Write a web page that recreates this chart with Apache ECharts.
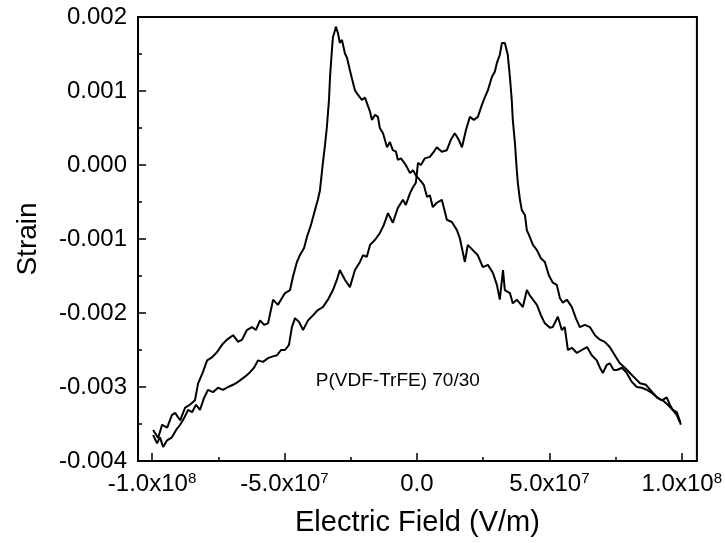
<!DOCTYPE html>
<html>
<head>
<meta charset="utf-8">
<script src="https://cdn.jsdelivr.net/npm/echarts@6/dist/echarts.min.js"></script>
<style>
  html, body { margin: 0; padding: 0; background: #fff; }
  #chart { width: 725px; height: 543px; }
</style>
</head>
<body>
<div id="chart"></div>
<script>
// Field sweep branch whose strain peak sits at negative field (V/m, strain)
const fieldA = [
  -99.6e6, -97.7e6, -96.2e6, -94.3e6, -92.5e6, -91.3e6, -89.4e6, -87.5e6, -85.7e6, -83.8e6,
  -82.6e6, -80.8e6, -79.2e6, -77.4e6, -75.5e6, -73.6e6, -71.7e6, -69.4e6, -67.5e6, -66.0e6,
  -64.2e6, -62.3e6, -60.8e6, -59.2e6, -57.7e6, -56.2e6, -54.3e6, -52.5e6, -49.8e6, -47.9e6,
  -46.8e6, -45.3e6, -44.2e6, -42.6e6, -41.5e6, -40.0e6, -38.5e6, -37.4e6, -36.6e6, -35.5e6,
  -34.7e6, -34.0e6, -33.2e6, -32.8e6, -32.1e6, -31.7e6, -30.9e6, -30.6e6, -29.8e6, -29.1e6,
  -28.3e6, -27.2e6, -26.4e6, -25.3e6, -24.2e6, -23.4e6, -22.3e6, -20.8e6, -19.6e6, -18.9e6,
  -17.7e6, -17.0e6, -15.8e6, -14.7e6, -14.0e6, -12.8e6, -11.3e6, -10.2e6, -9.1e6, -7.9e6,
  -7.2e6, -6.0e6, -5.3e6, -4.2e6, -2.6e6, -1.5e6, -0.4e6, 1.1e6, 2.6e6, 3.8e6,
  4.9e6, 6.0e6, 7.5e6, 9.4e6, 10.6e6, 11.3e6, 13.2e6, 15.1e6, 16.2e6, 18.1e6,
  19.2e6, 21.1e6, 23.0e6, 24.9e6, 26.8e6, 28.7e6, 30.2e6, 31.3e6, 32.5e6, 33.2e6,
  35.1e6, 36.2e6, 37.7e6, 38.9e6, 40.0e6, 41.5e6, 42.6e6, 43.8e6, 45.3e6, 46.8e6,
  48.3e6, 50.2e6, 51.3e6, 53.2e6, 54.7e6, 55.8e6, 57.0e6, 58.5e6, 60.4e6, 62.3e6,
  64.2e6, 66.0e6, 67.9e6, 69.1e6, 70.2e6, 71.7e6, 72.8e6, 74.3e6, 75.5e6, 77.4e6,
  79.2e6, 81.1e6, 83.0e6, 84.9e6, 86.8e6, 88.7e6, 90.6e6, 92.5e6, 94.3e6, 95.5e6,
  96.6e6, 98.1e6, 99.2e6, 99.6e6
];
const strainA = [
  -3.58e-3, -3.69e-3, -3.51e-3, -3.55e-3, -3.38e-3, -3.35e-3, -3.45e-3, -3.28e-3, -3.24e-3, -3.18e-3,
  -2.95e-3, -2.80e-3, -2.64e-3, -2.60e-3, -2.53e-3, -2.43e-3, -2.36e-3, -2.30e-3, -2.39e-3, -2.36e-3,
  -2.23e-3, -2.19e-3, -2.23e-3, -2.10e-3, -2.16e-3, -2.14e-3, -1.82e-3, -1.89e-3, -1.73e-3, -1.69e-3,
  -1.51e-3, -1.31e-3, -1.22e-3, -1.12e-3, -0.97e-3, -0.81e-3, -0.61e-3, -0.47e-3, -0.34e-3, 0.03e-3,
  0.27e-3, 0.51e-3, 0.88e-3, 1.19e-3, 1.55e-3, 1.73e-3, 1.82e-3, 1.87e-3, 1.78e-3, 1.65e-3,
  1.69e-3, 1.51e-3, 1.45e-3, 1.28e-3, 1.12e-3, 1.01e-3, 0.95e-3, 0.88e-3, 0.91e-3, 0.84e-3,
  0.72e-3, 0.61e-3, 0.68e-3, 0.65e-3, 0.50e-3, 0.43e-3, 0.24e-3, 0.31e-3, 0.20e-3, 0.18e-3,
  0.07e-3, 0.09e-3, 0.11e-3, 0.00e-3, -0.11e-3, -0.07e-3, -0.14e-3, -0.20e-3, -0.27e-3, -0.43e-3,
  -0.41e-3, -0.57e-3, -0.51e-3, -0.47e-3, -0.64e-3, -0.74e-3, -0.77e-3, -0.88e-3, -0.99e-3, -1.31e-3,
  -1.08e-3, -1.15e-3, -1.22e-3, -1.38e-3, -1.35e-3, -1.46e-3, -1.62e-3, -1.82e-3, -1.42e-3, -1.69e-3,
  -1.73e-3, -1.87e-3, -1.82e-3, -1.87e-3, -1.92e-3, -1.69e-3, -1.76e-3, -1.82e-3, -1.89e-3, -2.03e-3,
  -2.14e-3, -2.20e-3, -2.19e-3, -2.05e-3, -2.23e-3, -2.19e-3, -2.50e-3, -2.47e-3, -2.54e-3, -2.50e-3,
  -2.46e-3, -2.57e-3, -2.64e-3, -2.74e-3, -2.81e-3, -2.70e-3, -2.68e-3, -2.77e-3, -2.77e-3, -2.74e-3,
  -2.81e-3, -2.93e-3, -3.00e-3, -3.01e-3, -3.04e-3, -3.08e-3, -3.14e-3, -3.18e-3, -3.14e-3, -3.24e-3,
  -3.31e-3, -3.34e-3, -3.45e-3, -3.51e-3
];

// Field sweep branch whose strain peak sits at positive field (V/m, strain)
const fieldB = [
  -99.6e6, -98.1e6, -97.0e6, -95.8e6, -94.3e6, -92.5e6, -90.9e6, -89.4e6, -87.9e6, -86.4e6,
  -84.9e6, -83.4e6, -81.9e6, -80.4e6, -78.9e6, -77.0e6, -75.1e6, -73.2e6, -71.3e6, -69.4e6,
  -67.5e6, -64.9e6, -63.0e6, -61.5e6, -60.0e6, -58.1e6, -56.2e6, -54.7e6, -52.8e6, -51.3e6,
  -49.8e6, -48.3e6, -47.2e6, -46.0e6, -44.5e6, -43.0e6, -41.1e6, -39.2e6, -37.4e6, -35.5e6,
  -33.6e6, -31.7e6, -30.2e6, -29.1e6, -27.2e6, -25.3e6, -23.4e6, -21.5e6, -20.4e6, -18.9e6,
  -17.7e6, -15.8e6, -14.0e6, -12.5e6, -10.9e6, -9.1e6, -7.2e6, -5.3e6, -4.2e6, -2.6e6,
  -1.5e6, -0.4e6, 0.4e6, 1.5e6, 3.0e6, 4.9e6, 6.4e6, 7.5e6, 9.4e6, 11.3e6,
  12.8e6, 14.3e6, 15.8e6, 17.0e6, 18.5e6, 20.0e6, 21.5e6, 23.0e6, 24.5e6, 25.7e6,
  26.8e6, 28.3e6, 29.4e6, 30.2e6, 31.3e6, 32.1e6, 33.2e6, 34.3e6, 35.1e6, 35.8e6,
  36.2e6, 37.0e6, 37.7e6, 38.1e6, 38.9e6, 39.6e6, 40.8e6, 41.5e6, 42.6e6, 43.8e6,
  45.3e6, 46.8e6, 48.3e6, 49.8e6, 51.3e6, 52.8e6, 54.0e6, 55.1e6, 56.6e6, 58.5e6,
  60.0e6, 61.5e6, 63.4e6, 65.3e6, 67.2e6, 69.1e6, 70.9e6, 72.8e6, 74.7e6, 76.6e6,
  78.5e6, 80.4e6, 82.3e6, 84.2e6, 86.4e6, 89.1e6, 90.9e6, 92.8e6, 94.7e6, 96.6e6,
  98.1e6, 99.2e6
];
const strainB = [
  -3.65e-3, -3.76e-3, -3.68e-3, -3.81e-3, -3.72e-3, -3.68e-3, -3.58e-3, -3.51e-3, -3.42e-3, -3.31e-3,
  -3.34e-3, -3.24e-3, -3.31e-3, -3.15e-3, -3.04e-3, -3.07e-3, -3.01e-3, -3.04e-3, -3.00e-3, -2.97e-3,
  -2.93e-3, -2.86e-3, -2.80e-3, -2.74e-3, -2.64e-3, -2.66e-3, -2.61e-3, -2.59e-3, -2.57e-3, -2.50e-3,
  -2.50e-3, -2.43e-3, -2.19e-3, -2.07e-3, -2.12e-3, -2.23e-3, -2.10e-3, -2.03e-3, -1.96e-3, -1.92e-3,
  -1.82e-3, -1.69e-3, -1.55e-3, -1.42e-3, -1.55e-3, -1.65e-3, -1.42e-3, -1.31e-3, -1.22e-3, -1.24e-3,
  -1.08e-3, -1.01e-3, -0.92e-3, -0.81e-3, -0.65e-3, -0.78e-3, -0.58e-3, -0.47e-3, -0.54e-3, -0.38e-3,
  -0.30e-3, -0.24e-3, 0.03e-3, 0.00e-3, 0.09e-3, 0.11e-3, 0.18e-3, 0.24e-3, 0.18e-3, 0.20e-3,
  0.34e-3, 0.43e-3, 0.34e-3, 0.24e-3, 0.47e-3, 0.65e-3, 0.61e-3, 0.65e-3, 0.81e-3, 0.92e-3,
  1.01e-3, 1.19e-3, 1.26e-3, 1.38e-3, 1.49e-3, 1.65e-3, 1.65e-3, 1.49e-3, 1.19e-3, 0.88e-3,
  0.61e-3, 0.30e-3, -0.07e-3, -0.24e-3, -0.47e-3, -0.61e-3, -0.68e-3, -0.88e-3, -0.97e-3, -1.08e-3,
  -1.15e-3, -1.26e-3, -1.31e-3, -1.49e-3, -1.59e-3, -1.62e-3, -1.80e-3, -1.86e-3, -1.82e-3, -1.92e-3,
  -2.07e-3, -2.19e-3, -2.16e-3, -2.19e-3, -2.30e-3, -2.36e-3, -2.39e-3, -2.46e-3, -2.57e-3, -2.68e-3,
  -2.74e-3, -2.81e-3, -2.88e-3, -2.95e-3, -2.97e-3, -3.08e-3, -3.15e-3, -3.18e-3, -3.24e-3, -3.31e-3,
  -3.38e-3, -3.47e-3
];

// Axis ticks
const xMajorTicks = [-1e8, -5e7, 0, 5e7, 1e8];
const xMinorTicks = [-7.5e7, -2.5e7, 2.5e7, 7.5e7];
const xTickMantissa = ['-1.0', '-5.0', '0.0', '5.0', '1.0'];
const xTickExponent = ['8', '7', '', '7', '8'];
const yTicks = [-0.004, -0.003, -0.002, -0.001, 0.000, 0.001, 0.002];

const sampleLabel = 'P(VDF-TrFE) 70/30';
const sampleLabelAt = [-7.2e6, -2.92e-3];

const FONT = '"Liberation Sans", Arial, Helvetica, sans-serif';
const INK = '#000';

const xMin = -1.053e8, xMax = 1.057e8;
const gridBox = { left: 138, right: 28, top: 17, bottom: 82 };

function xLabel(v) {
  const i = xMajorTicks.findIndex(t => Math.abs(t - v) < 1);
  if (i < 0) return '';
  if (!xTickExponent[i]) return '{b|' + xTickMantissa[i] + '}';
  return '{b|' + xTickMantissa[i] + 'x10}{s|' + xTickExponent[i] + '}';
}

const chart = echarts.init(document.getElementById('chart'), null, { renderer: 'canvas' });

chart.setOption({
  animation: false,
  backgroundColor: '#fff',
  grid: [
    Object.assign({ show: true, borderColor: INK, borderWidth: 2, backgroundColor: 'transparent' }, gridBox),
    Object.assign({ show: false }, gridBox)
  ],
  xAxis: [
    {
      type: 'value', gridIndex: 0, min: xMin, max: xMax,
      axisLine: { show: true, onZero: false, lineStyle: { color: INK, width: 2 } },
      axisTick: { show: true, inside: true, length: 8, customValues: xMajorTicks, lineStyle: { color: INK, width: 1.5 } },
      axisLabel: {
        show: true, customValues: xMajorTicks, margin: 10, formatter: xLabel,
        rich: {
          b: { fontSize: 24, fontFamily: FONT, color: INK, lineHeight: 26 },
          s: { fontSize: 15, fontFamily: FONT, color: INK, verticalAlign: 'top', lineHeight: 15 }
        }
      },
      splitLine: { show: false },
      name: 'Electric Field (V/m)', nameLocation: 'middle', nameGap: 47,
      nameTextStyle: { fontSize: 29, fontFamily: FONT, color: INK }
    },
    {
      type: 'value', gridIndex: 1, min: xMin, max: xMax, position: 'bottom',
      axisLine: { show: false, onZero: false },
      axisTick: { show: true, inside: true, length: 4, customValues: xMinorTicks, lineStyle: { color: INK, width: 1.5 } },
      axisLabel: { show: false },
      splitLine: { show: false }
    }
  ],
  yAxis: [
    {
      type: 'value', gridIndex: 0, min: yTicks[0], max: yTicks[yTicks.length - 1], interval: 0.001,
      axisLine: { show: true, onZero: false, lineStyle: { color: INK, width: 2 } },
      axisTick: { show: true, inside: true, length: 8, lineStyle: { color: INK, width: 1.5 } },
      minorTick: { show: true, splitNumber: 2, length: 4, lineStyle: { color: INK, width: 1.5 } },
      minorSplitLine: { show: false },
      axisLabel: {
        margin: 11, fontSize: 24, fontFamily: FONT, color: INK,
        formatter: v => v.toFixed(3)
      },
      splitLine: { show: false },
      name: 'Strain', nameLocation: 'middle', nameRotate: 90, nameGap: 96,
      nameTextStyle: { fontSize: 28, fontFamily: FONT, color: INK }
    },
    {
      type: 'value', gridIndex: 1, min: yTicks[0], max: yTicks[yTicks.length - 1], show: false,
      axisLine: { onZero: false }
    }
  ],
  series: [
    {
      type: 'line', xAxisIndex: 0, yAxisIndex: 0, symbol: 'none',
      lineStyle: { color: INK, width: 2 },
      data: fieldA.map((x, i) => [x, strainA[i]])
    },
    {
      type: 'line', xAxisIndex: 0, yAxisIndex: 0, symbol: 'none',
      lineStyle: { color: INK, width: 2 },
      data: fieldB.map((x, i) => [x, strainB[i]])
    }
  ]
});

// Sample annotation placed in data coordinates
const labelPx = chart.convertToPixel({ gridIndex: 0 }, sampleLabelAt);
chart.setOption({
  graphic: [{
    type: 'text', x: labelPx[0], y: labelPx[1], silent: true,
    style: {
      text: sampleLabel, fill: INK, fontSize: 19, fontFamily: FONT,
      align: 'center', verticalAlign: 'middle'
    }
  }]
});
</script>
</body>
</html>
